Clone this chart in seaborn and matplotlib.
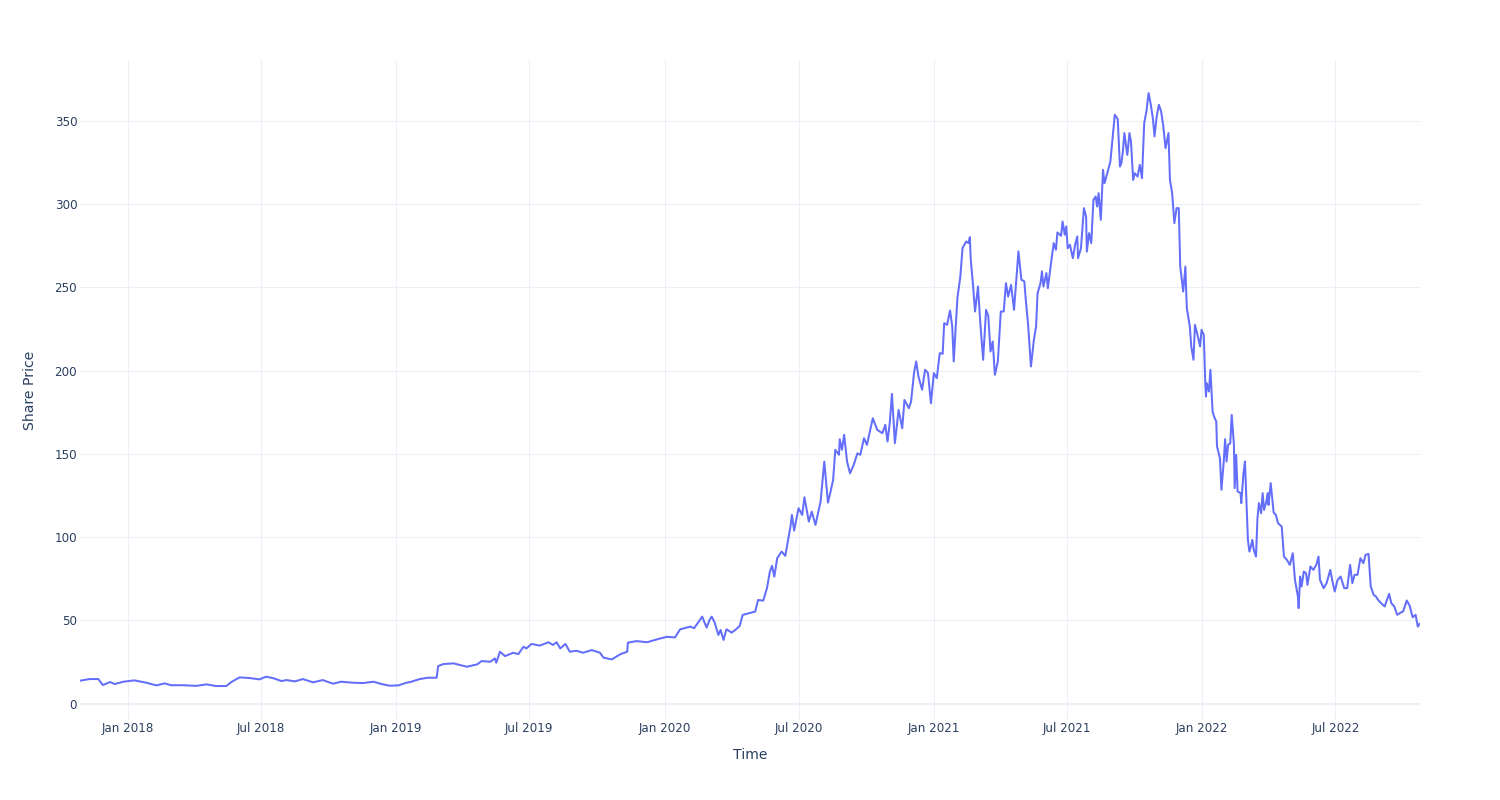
import pandas as pd
import matplotlib
matplotlib.use("Agg")
import matplotlib.pyplot as plt
import seaborn as sns

# ---- data (closing share price, USD) ----
dates_2017_2018 = [
    "2017-10-28", "2017-11-10", "2017-11-22", "2017-11-28", "2017-12-08", "2017-12-14",
    "2017-12-26", "2018-01-10", "2018-01-26", "2018-02-09", "2018-02-20", "2018-03-01",
    "2018-03-17", "2018-04-04", "2018-04-18", "2018-05-01", "2018-05-15", "2018-05-22",
    "2018-06-02", "2018-06-16", "2018-06-29", "2018-07-08", "2018-07-17", "2018-07-29",
    "2018-08-05", "2018-08-16", "2018-08-27", "2018-09-10", "2018-09-23", "2018-10-07",
    "2018-10-18", "2018-11-03", "2018-11-17", "2018-12-01", "2018-12-12", "2018-12-23",
]
prices_2017_2018 = [
    13.7, 14.7, 14.7, 11.1, 12.9, 11.7,
    13.1, 13.9, 12.5, 10.9, 12.1, 11.0,
    11.0, 10.6, 11.5, 10.5, 10.5, 13.0,
    15.7, 15.3, 14.5, 16.1, 15.3, 13.5,
    14.1, 13.3, 14.7, 12.7, 14.1, 11.9,
    13.1, 12.5, 12.3, 13.1, 11.7, 10.7,
]

dates_2019 = [
    "2019-01-04", "2019-01-15", "2019-01-20", "2019-02-02", "2019-02-13", "2019-02-25",
    "2019-02-27", "2019-03-06", "2019-03-20", "2019-04-07", "2019-04-21", "2019-04-27",
    "2019-05-09", "2019-05-15", "2019-05-17", "2019-05-22", "2019-05-29", "2019-06-09",
    "2019-06-16", "2019-06-23", "2019-06-27", "2019-07-04", "2019-07-15", "2019-07-27",
    "2019-08-02", "2019-08-07", "2019-08-12", "2019-08-19", "2019-08-25", "2019-09-03",
    "2019-09-12", "2019-09-24", "2019-10-05", "2019-10-10", "2019-10-21", "2019-11-02",
    "2019-11-11", "2019-11-12", "2019-11-24", "2019-12-08", "2019-12-22",
]
prices_2019 = [
    10.9, 12.5, 12.9, 14.7, 15.5, 15.5,
    22.5, 23.7, 24.1, 22.1, 23.5, 25.5,
    25.1, 27.1, 24.5, 31.1, 28.5, 30.5,
    29.7, 34.1, 33.1, 35.8, 34.8, 36.8,
    35.2, 36.8, 33.1, 35.8, 31.1, 31.7,
    30.5, 32.1, 30.5, 27.5, 26.5, 29.7,
    31.1, 36.6, 37.5, 36.8, 38.6,
]

dates_2020 = [
    "2020-01-04", "2020-01-15", "2020-01-22", "2020-02-05", "2020-02-10", "2020-02-21",
    "2020-02-27", "2020-03-02", "2020-03-05", "2020-03-09", "2020-03-14", "2020-03-17",
    "2020-03-21", "2020-03-25", "2020-04-01", "2020-04-06", "2020-04-12", "2020-04-16",
    "2020-04-24", "2020-05-03", "2020-05-07", "2020-05-14", "2020-05-19", "2020-05-23",
    "2020-05-26", "2020-05-29", "2020-06-02", "2020-06-08", "2020-06-13", "2020-06-16",
    "2020-06-20", "2020-06-22", "2020-06-25", "2020-07-01", "2020-07-06", "2020-07-09",
    "2020-07-15", "2020-07-19", "2020-07-24", "2020-07-31", "2020-08-05", "2020-08-10",
    "2020-08-13", "2020-08-17", "2020-08-20", "2020-08-25", "2020-08-26", "2020-08-29",
    "2020-09-01", "2020-09-05", "2020-09-09", "2020-09-14", "2020-09-19", "2020-09-23",
    "2020-09-28", "2020-10-02", "2020-10-10", "2020-10-16", "2020-10-23", "2020-10-27",
    "2020-10-30", "2020-11-02", "2020-11-05", "2020-11-09", "2020-11-14", "2020-11-19",
    "2020-11-22", "2020-11-28", "2020-12-01", "2020-12-05", "2020-12-08", "2020-12-11",
    "2020-12-16", "2020-12-20", "2020-12-24", "2020-12-28",
]
prices_2020 = [
    40.1, 39.7, 44.6, 46.2, 45.2, 52.2,
    45.6, 50.2, 52.2, 48.6, 41.2, 44.2,
    38.2, 44.6, 42.6, 44.2, 46.6, 53.2,
    54.2, 55.2, 62.2, 61.8, 69.2, 79.2,
    82.7, 76.2, 87.3, 91.3, 88.7, 96.3,
    106.3, 113.3, 103.9, 117.3, 113.3, 123.9,
    109.3, 115.3, 107.3, 121.3, 145.3, 120.7,
    126.3, 134.3, 152.4, 149.4, 158.8, 152.4,
    161.4, 145.3, 138.3, 143.3, 150.3, 149.4,
    159.4, 155.4, 171.4, 164.4, 162.4, 167.4,
    157.4, 168.4, 186.0, 156.4, 176.4, 165.4,
    182.4, 177.4, 181.4, 198.5, 205.5, 196.5,
    188.5, 200.5, 198.5, 180.4,
]

dates_2021 = [
    "2021-01-01", "2021-01-05", "2021-01-09", "2021-01-13", "2021-01-15", "2021-01-19",
    "2021-01-23", "2021-01-26", "2021-01-28", "2021-02-02", "2021-02-06", "2021-02-09",
    "2021-02-14", "2021-02-17", "2021-02-19", "2021-02-20", "2021-02-23", "2021-02-26",
    "2021-03-02", "2021-03-05", "2021-03-09", "2021-03-13", "2021-03-16", "2021-03-19",
    "2021-03-22", "2021-03-25", "2021-03-29", "2021-04-02", "2021-04-06", "2021-04-09",
    "2021-04-12", "2021-04-16", "2021-04-20", "2021-04-26", "2021-04-30", "2021-05-04",
    "2021-05-06", "2021-05-09", "2021-05-13", "2021-05-17", "2021-05-20", "2021-05-22",
    "2021-05-26", "2021-05-28", "2021-05-30", "2021-06-03", "2021-06-05", "2021-06-09",
    "2021-06-13", "2021-06-16", "2021-06-18", "2021-06-23", "2021-06-25", "2021-06-28",
    "2021-06-30", "2021-07-02", "2021-07-05", "2021-07-09", "2021-07-12", "2021-07-15",
    "2021-07-16", "2021-07-20", "2021-07-24", "2021-07-27", "2021-07-28", "2021-07-31",
    "2021-08-03", "2021-08-06", "2021-08-09", "2021-08-11", "2021-08-13", "2021-08-16",
    "2021-08-19", "2021-08-21", "2021-08-23", "2021-08-26", "2021-08-29", "2021-09-01",
    "2021-09-04", "2021-09-08", "2021-09-11", "2021-09-13", "2021-09-15", "2021-09-17",
    "2021-09-21", "2021-09-24", "2021-09-26", "2021-09-29", "2021-10-01", "2021-10-05",
    "2021-10-08", "2021-10-11", "2021-10-14", "2021-10-17", "2021-10-20", "2021-10-23",
    "2021-10-26", "2021-10-28", "2021-10-31", "2021-11-03", "2021-11-06", "2021-11-09",
    "2021-11-12", "2021-11-16", "2021-11-18", "2021-11-21", "2021-11-24", "2021-11-27",
    "2021-11-30", "2021-12-02", "2021-12-06", "2021-12-09", "2021-12-10", "2021-12-11",
    "2021-12-15", "2021-12-17", "2021-12-20", "2021-12-22", "2021-12-26", "2021-12-29",
    "2021-12-31",
]
prices_2021 = [
    198.5, 195.5, 210.5, 210.1, 228.5, 227.5,
    236.1, 226.5, 205.5, 243.5, 256.5, 273.6,
    277.6, 276.6, 280.2, 267.6, 252.5, 235.5,
    250.5, 229.5, 206.5, 236.5, 232.9, 211.5,
    217.5, 197.5, 205.5, 235.5, 235.5, 252.5,
    244.5, 251.5, 236.5, 271.6, 254.6, 253.6,
    242.5, 228.5, 202.5, 218.5, 226.5, 246.5,
    252.5, 259.6, 250.5, 258.6, 249.5, 263.6,
    276.6, 272.6, 283.0, 281.0, 289.6, 281.6,
    286.6, 273.5, 275.6, 267.5, 275.6, 280.6,
    267.5, 273.5, 297.6, 292.6, 271.5, 282.6,
    276.6, 302.6, 304.6, 298.6, 306.6, 290.6,
    320.6, 312.6, 315.6, 320.6, 325.6, 339.7,
    353.7, 351.1, 322.6, 324.6, 331.6, 342.7,
    329.6, 342.7, 337.6, 314.6, 318.6, 316.6,
    323.6, 315.6, 348.7, 355.7, 366.7, 359.7,
    350.7, 340.7, 352.7, 359.7, 355.7, 346.7,
    333.6, 342.7, 314.6, 306.6, 288.6, 297.6,
    297.6, 262.5, 247.5, 262.5, 248.5, 237.5,
    226.5, 214.5, 206.5, 227.5, 220.5, 214.5,
    224.5,
]

dates_2022 = [
    "2022-01-03", "2022-01-05", "2022-01-06", "2022-01-07", "2022-01-10", "2022-01-12",
    "2022-01-15", "2022-01-17", "2022-01-20", "2022-01-21", "2022-01-25", "2022-01-27",
    "2022-01-30", "2022-02-01", "2022-02-03", "2022-02-05", "2022-02-08", "2022-02-10",
    "2022-02-13", "2022-02-14", "2022-02-16", "2022-02-18", "2022-02-22", "2022-02-23",
    "2022-02-26", "2022-02-28", "2022-03-04", "2022-03-06", "2022-03-08", "2022-03-10",
    "2022-03-12", "2022-03-15", "2022-03-17", "2022-03-19", "2022-03-22", "2022-03-24",
    "2022-03-26", "2022-03-29", "2022-03-31", "2022-04-01", "2022-04-04", "2022-04-08",
    "2022-04-11", "2022-04-14", "2022-04-19", "2022-04-22", "2022-04-26", "2022-04-30",
    "2022-05-04", "2022-05-07", "2022-05-11", "2022-05-12", "2022-05-14", "2022-05-16",
    "2022-05-19", "2022-05-22", "2022-05-24", "2022-05-28", "2022-06-01", "2022-06-05",
    "2022-06-08", "2022-06-10", "2022-06-15", "2022-06-19", "2022-06-24", "2022-06-27",
    "2022-06-30", "2022-07-04", "2022-07-08", "2022-07-13", "2022-07-17", "2022-07-21",
    "2022-07-24", "2022-07-27", "2022-07-31", "2022-08-04", "2022-08-08", "2022-08-11",
    "2022-08-15", "2022-08-18", "2022-08-22", "2022-08-25", "2022-08-28", "2022-09-01",
    "2022-09-06", "2022-09-12", "2022-09-15", "2022-09-19", "2022-09-23", "2022-09-28",
    "2022-10-01", "2022-10-06", "2022-10-10", "2022-10-14", "2022-10-18", "2022-10-21",
    "2022-10-24",
]
prices_2022 = [
    221.5, 192.5, 184.4, 192.5, 187.4, 200.5,
    175.4, 172.4, 169.4, 154.4, 147.4, 128.4,
    144.4, 158.8, 145.4, 155.4, 156.4, 173.4,
    155.4, 129.4, 149.4, 127.4, 126.4, 120.4,
    138.4, 145.4, 98.3, 91.3, 94.3, 98.3,
    92.3, 88.3, 111.3, 120.4, 114.3, 126.4,
    116.3, 121.3, 126.4, 119.3, 132.4, 114.7,
    113.3, 108.3, 106.3, 88.3, 86.3, 83.3,
    90.3, 74.3, 64.3, 57.3, 76.3, 70.3,
    79.3, 78.3, 71.3, 82.3, 80.3, 83.3,
    88.3, 74.3, 69.3, 72.3, 80.3, 73.3,
    67.3, 74.3, 76.3, 69.3, 69.3, 83.3,
    72.3, 77.3, 77.3, 87.3, 84.3, 89.3,
    89.9, 70.3, 65.3, 64.3, 62.3, 60.3,
    58.3, 65.9, 60.3, 58.3, 53.3, 54.7,
    55.3, 61.9, 58.7, 51.8, 53.3, 46.2,
    48.2,
]

tick_dates = ["2018-01-01", "2018-07-01", "2019-01-01", "2019-07-01", "2020-01-01",
              "2020-07-01", "2021-01-01", "2021-07-01", "2022-01-01", "2022-07-01"]
tick_labels = ["Jan 2018", "Jul 2018", "Jan 2019", "Jul 2019", "Jan 2020",
               "Jul 2020", "Jan 2021", "Jul 2021", "Jan 2022", "Jul 2022"]
y_ticks = [0, 50, 100, 150, 200, 250, 300, 350]

# ---- build frame ----
df = pd.DataFrame({
    "Time": pd.to_datetime(dates_2017_2018 + dates_2019 + dates_2020 + dates_2021 + dates_2022),
    "Share Price": prices_2017_2018 + prices_2019 + prices_2020 + prices_2021 + prices_2022,
})

sns.set_style("white")
plt.rcParams["font.family"] = ["DejaVu Sans"]

fig = plt.figure(figsize=(15, 8), dpi=100)
ax = fig.add_axes([80 / 1500, 1 - 720 / 800, 1340 / 1500, 660 / 800])

grid_col = "#EBF0F8"
text_col = "#2a3f5f"

sns.lineplot(data=df, x="Time", y="Share Price", ax=ax, color="#636EFA",
             linewidth=1.45, estimator=None, sort=True)

ax.set_xlim(df["Time"].iloc[0], df["Time"].iloc[-1])
ax.set_ylim(-9.9, 386.6)
ax.set_yticks(y_ticks)
ax.set_yticklabels([str(v) for v in y_ticks])
ax.set_xticks(pd.to_datetime(tick_dates))
ax.set_xticklabels(tick_labels)

ax.set_axisbelow(True)
ax.grid(True, color=grid_col, linewidth=0.75)
ax.axhline(0, color=grid_col, linewidth=1.5, zorder=0.5)
for s in ax.spines.values():
    s.set_visible(False)

ax.tick_params(axis="both", length=0, colors=text_col, labelsize=8.6)
ax.tick_params(axis="y", pad=2)
ax.tick_params(axis="x", pad=1.5)
ax.set_xlabel("Time", fontsize=10.1, color=text_col, labelpad=9)
ax.set_ylabel("Share Price", fontsize=10.1, color=text_col, labelpad=13)

fig.savefig("out.png", dpi=100, facecolor="white")
